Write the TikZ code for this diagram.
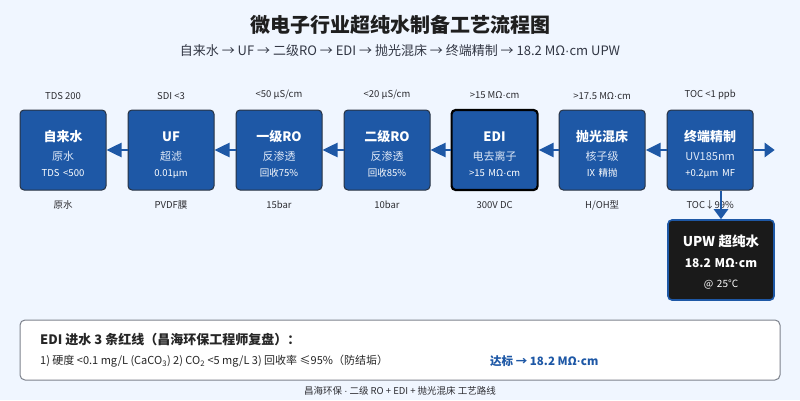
\documentclass[tikz,border=0pt]{standalone}
\usepackage{fontspec}
\setmainfont{Noto Sans CJK SC}
\newfontfamily\latinfont{Liberation Sans}
\usepackage{tikz}
\usetikzlibrary{arrows.meta, positioning}
\definecolor{bgblue}{RGB}{240,246,255}
\definecolor{boxblue}{RGB}{30,88,166}
\definecolor{boxedge}{RGB}{40,50,66}
\definecolor{paleblue}{RGB}{222,232,247}
\definecolor{labelgray}{RGB}{45,45,50}
\definecolor{subgray}{RGB}{50,55,68}
\definecolor{upwdark}{RGB}{26,26,26}
\definecolor{notegray}{RGB}{125,130,140}
\tikzset{
  titletext/.style={font=\fontsize{20}{24}\selectfont\bfseries, text=black!88},
  subtext/.style={font=\fontsize{13}{16}\selectfont, text=subgray},
  stagebox/.style={rectangle, draw=boxedge, fill=boxblue, text=white,
    minimum width=86pt, minimum height=80pt, inner sep=0pt, text width=84pt,
    align=center, rounded corners=4pt, line width=1pt,
    font=\fontsize{11}{16}\selectfont},
  edibox/.style={stagebox, draw=black, line width=2.2pt},
  upwbox/.style={stagebox, draw=boxblue, fill=upwdark, line width=1.6pt,
    minimum width=106pt, text width=104pt},
  paramlabel/.style={font=\fontsize{9.5}{11}\selectfont, text=labelgray, inner sep=1pt},
  notebox/.style={rectangle, draw=notegray, fill=white, rounded corners=5pt,
    line width=1pt, minimum width=760pt, minimum height=60pt},
  notetext/.style={anchor=west, inner sep=0pt, text=black!85},
  flowarrow/.style={draw=boxblue, line width=2.5pt, {Triangle[length=15pt,width=14pt]}-},
  outarrow/.style={draw=boxblue, line width=2.5pt, -{Triangle[length=10pt,width=14pt]}}
}
\newcommand{\mdot}{{\latinfont ·}}
\newcommand{\stagetext}[3]{%
  \rule{0pt}{19pt}{\fontsize{13}{16}\selectfont\bfseries #1}\\[3pt]
  {\color{paleblue}#2}\\
  {\fontsize{9.5}{11}\selectfont #3}}

\begin{document}
\begin{tikzpicture}[x=1pt, y=1pt]
  % Background
  \fill[bgblue] (0,0) rectangle (800,400);
  \useasboundingbox (0,0) rectangle (800,400);

  % Title
  \node[titletext] (title) at (400,375) {微电子行业超纯水制备工艺流程图};
  \node[subtext] (subtitle) at (400,349)
    {自来水 → UF → 二级RO → EDI → 抛光混床 → 终端精制 → 18.2 MΩ\mdot cm UPW};

  % Process stages
  \node[stagebox] (tap) at (63,250) {\stagetext{自来水}{原水}{TDS <500}};
  \node[stagebox, right=21pt of tap] (uf) {\stagetext{UF}{超滤}{0.01μm}};
  \node[stagebox, right=21pt of uf] (ro1) {\stagetext{一级RO}{反渗透}{回收75\%}};
  \node[stagebox, right=21pt of ro1] (ro2) {\stagetext{二级RO}{反渗透}{回收85\%}};
  \node[edibox, right=20pt of ro2] (edi) {\stagetext{EDI}{电去离子}{>15 MΩ\mdot cm}};
  \node[stagebox, right=20pt of edi] (mb) {\stagetext{抛光混床}{核子级}{IX 精抛}};
  \node[stagebox, right=21pt of mb] (polish) {\stagetext{终端精制}{UV185nm}{+0.2μm MF}};

  % Product water
  \node[upwbox] (upw) at (721,140)
    {\rule{0pt}{15pt}{\fontsize{13.5}{16}\selectfont\bfseries UPW 超纯水}\\[5pt]
     {\fontsize{12}{14}\selectfont\bfseries 18.2 MΩ\mdot cm}\\[4pt]
     {\fontsize{10}{12}\selectfont @ 25°C}};

  % Parameters above each stage
  \node[paramlabel, above=9pt of tap] (tapin) {TDS 200};
  \node[paramlabel, above=9pt of uf] (ufin) {SDI <3};
  \node[paramlabel, above=9pt of ro1] (ro1in) {<50 μS/cm};
  \node[paramlabel, above=9pt of ro2] (ro2in) {<20 μS/cm};
  \node[paramlabel, above=9pt of edi] (ediin) {>15 MΩ\mdot cm};
  \node[paramlabel, above=9pt of mb] (mbin) {>17.5 MΩ\mdot cm};
  \node[paramlabel, above=9pt of polish] (polishin) {TOC <1 ppb};

  % Notes below each stage
  \node[paramlabel, below=9pt of tap] (tapout) {原水};
  \node[paramlabel, below=9pt of uf] (ufout) {PVDF膜};
  \node[paramlabel, below=9pt of ro1] (ro1out) {15bar};
  \node[paramlabel, below=9pt of ro2] (ro2out) {10bar};
  \node[paramlabel, below=9pt of edi] (ediout) {300V DC};
  \node[paramlabel, below=9pt of mb] (mbout) {H/OH型};
  \node[paramlabel, below=9pt of polish] (polishout) {TOC↓99\%};

  % Connectors
  \draw[flowarrow] (tap.east) -- (uf.west);
  \draw[flowarrow] (uf.east) -- (ro1.west);
  \draw[flowarrow] (ro1.east) -- (ro2.west);
  \draw[flowarrow] (ro2.east) -- (edi.west);
  \draw[flowarrow] (edi.east) -- (mb.west);
  \draw[flowarrow] (mb.east) -- (polish.west);
  \coordinate[right=21pt of polish] (outlet);
  \draw[outarrow] (polish.east) -- (outlet);
  \draw[outarrow] (polish.south -| upw.north) -- (upw.north);

  % EDI feed water limits
  \node[notebox] (note) at (400,50) {};
  \node[notetext, font=\fontsize{13}{16}\selectfont\bfseries] (notehead) at (40,60)
    {EDI 进水 3 条红线（昌海环保工程师复盘）：};
  \node[notetext, font=\fontsize{11}{13}\selectfont] (notebody) at (40,39)
    {1) 硬度 <0.1 mg/L (CaCO\textsubscript{3}) 2) CO\textsubscript{2} <5 mg/L 3) 回收率 ≤95\%（防结垢）};
  \node[notetext, font=\fontsize{11.5}{13}\selectfont\bfseries, text=boxblue] (notegoal) at (490,39)
    {达标 → 18.2 MΩ\mdot cm};

  % Footer
  \node[paramlabel] (footer) at (400,9) {昌海环保 \mdot{} 二级 RO + EDI + 抛光混床 工艺路线};
\end{tikzpicture}
\end{document}
